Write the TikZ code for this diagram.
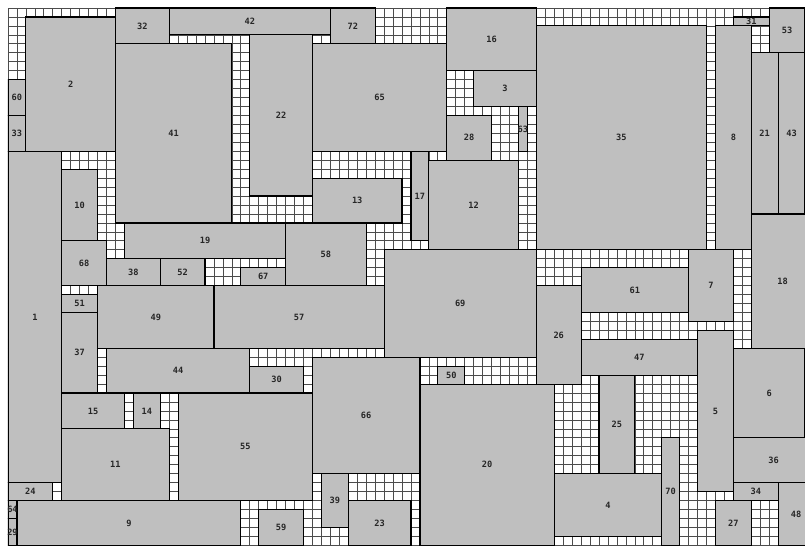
\documentclass[tikz,border=0pt]{standalone}
\usepackage{fontspec}
\setmonofont{DejaVu Sans Mono}
\usepackage{xcolor}
\usetikzlibrary{positioning}
\definecolor{boxgray}{RGB}{191,191,191}

\begin{document}
\begin{tikzpicture}[x=2mm, y=-2mm,
  cell/.style={draw=black!70, line width=0.45pt},
  box/.style={draw=black, line width=0.75pt, fill=boxgray},
  lbl/.style={inner sep=0pt, font=\ttfamily\bfseries\fontsize{5.5}{6}\selectfont, text=black!85}
]
\useasboundingbox (-0.893,-0.893) rectangle (89,60);
\clip (0,0) rectangle (89,60);

% Background grid
\fill[white] (0,0) rectangle (89,60);
\draw[cell, step=2mm] (0,0) grid (89,60);

% Packed rectangles: number/x/y/width/height
\foreach \n/\x/\y/\w/\h in {
  1/0/16/6/37, 2/2/1/10/15, 3/52/7/7/4, 4/61/52/12/7, 5/77/36/4/18,
  6/81/38/8/10, 7/76/27/5/8, 8/79/2/4/25, 9/1/55/25/5, 10/6/18/4/8,
  11/6/47/12/8, 12/47/17/10/10, 13/34/19/10/5, 14/14/43/3/4, 15/6/43/7/4,
  16/49/0/10/7, 17/45/16/2/10, 18/83/23/7/15, 19/13/24/18/4, 20/46/42/15/18,
  21/83/5/3/18, 22/27/3/7/18, 23/38/55/7/5, 24/0/53/5/2, 25/66/41/4/11,
  26/59/31/5/11, 27/79/55/4/5, 28/49/12/5/5, 29/0/57/1/3, 30/27/40/6/3,
  31/81/1/4/1, 32/12/0/6/4, 33/0/12/2/4, 34/81/53/5/2, 35/59/2/19/25,
  36/81/48/9/5, 37/6/34/4/9, 38/11/28/6/3, 39/35/52/3/6, 41/12/4/13/20,
  42/18/0/18/3, 43/86/5/3/18, 44/11/38/16/5, 47/64/37/13/4, 48/86/53/4/7,
  49/10/31/13/7, 50/48/40/3/2, 51/6/32/4/2, 52/17/28/5/3, 53/85/0/4/5,
  55/19/43/15/12, 57/23/31/19/7, 58/31/24/9/7, 59/28/56/5/4, 60/0/8/2/4,
  61/64/29/12/5, 63/57/11/1/5, 64/0/55/1/2, 65/34/4/15/12, 66/34/39/12/13,
  67/26/29/5/2, 68/6/26/5/5, 69/42/27/17/12, 70/73/48/2/12, 72/36/0/5/4}
{
  \draw[box] (\x,\y) rectangle ++(\w,\h);
  \node[lbl] (b\n) at ({\x+\w/2},{\y+\h/2}) {\n};
}

\end{tikzpicture}
\end{document}
